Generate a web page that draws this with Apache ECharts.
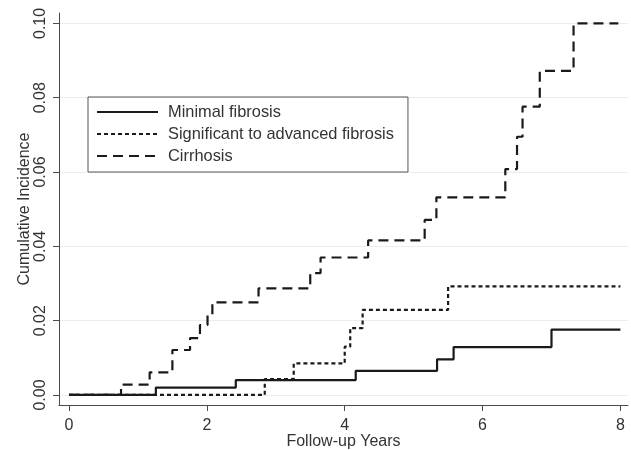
<!DOCTYPE html>
<html>
<head>
<meta charset="utf-8">
<script src="https://cdn.jsdelivr.net/npm/echarts@6/dist/echarts.min.js"></script>
<style>
html,body{margin:0;padding:0;background:#fff;}
#chart{width:631px;height:450px;}
</style>
</head>
<body>
<div id="chart"></div>
<script>
// ---- data ----
const seriesNames = ["Minimal fibrosis", "Significant to advanced fibrosis", "Cirrhosis"];

const minimalTimes  = [0, 1.26, 2.42, 4.16, 5.34, 5.58, 7.00, 8.00];
const minimalValues = [0, 0.0020, 0.0040, 0.0065, 0.0096, 0.0129, 0.0176, 0.0176];

const significantTimes  = [0, 2.84, 3.26, 4.00, 4.08, 4.26, 5.50, 8.00];
const significantValues = [0, 0.0043, 0.0085, 0.0130, 0.0180, 0.0229, 0.0292, 0.0292];

const cirrhosisTimes  = [0, 0.755, 1.17, 1.50, 1.756, 1.90, 2.01, 2.08, 2.75, 3.50, 3.65, 4.34, 5.16, 5.33, 6.33, 6.50, 6.58, 6.83, 7.32, 7.97];
const cirrhosisValues = [0, 0.0028, 0.0061, 0.0121, 0.0153, 0.0188, 0.0215, 0.0249, 0.0287, 0.0328, 0.0370, 0.0416, 0.0471, 0.0532, 0.0608, 0.0695, 0.0776, 0.0872, 0.1000, 0.1000];

const xTicks = [0, 2, 4, 6, 8];
const yTicks = [0, 0.02, 0.04, 0.06, 0.08, 0.10];

function pairs(t, v) { return t.map((x, i) => [x, v[i]]); }

const FONT = '"Liberation Sans", Arial, sans-serif';
const TXT = '#333';
const AXIS = '#4a4a4a';
const LINE = '#1a1a1a';

const chart = echarts.init(document.getElementById('chart'), null, {renderer: 'canvas'});
chart.setOption({
  animation: false,
  backgroundColor: '#fff',
  grid: {left: 59, right: 3, top: 13, bottom: 45, containLabel: false, outerBoundsMode: 'none'},
  legend: {
    show: true,
    orient: 'vertical',
    left: 88, top: 97,
    padding: [7, 14, 8, 8],
    borderColor: '#555', borderWidth: 1,
    itemWidth: 61, itemHeight: 14, itemGap: 6,
    itemStyle: {opacity: 0},
    textStyle: {fontFamily: FONT, fontSize: 16.4, color: TXT, padding: [0, 0, 0, 5]},
    data: seriesNames
  },
  xAxis: {
    type: 'value',
    min: -0.145, max: 8.11,
    name: 'Follow-up Years',
    nameLocation: 'middle',
    nameGap: 29,
    nameMoveOverlap: false,
    nameTextStyle: {fontFamily: FONT, fontSize: 16, color: TXT},
    axisLine: {show: true, onZero: false, lineStyle: {color: AXIS, width: 1}},
    axisTick: {show: true, length: 6, lineStyle: {color: AXIS}, customValues: xTicks},
    axisLabel: {fontFamily: FONT, fontSize: 16, color: TXT, margin: 13, customValues: xTicks},
    splitLine: {show: false}
  },
  yAxis: {
    type: 'value',
    min: -0.0027, max: 0.1028,
    name: 'Cumulative Incidence',
    nameLocation: 'middle',
    nameGap: 26,
    nameMoveOverlap: false,
    nameRotate: 90,
    nameTextStyle: {fontFamily: FONT, fontSize: 16, color: TXT},
    axisLine: {show: true, onZero: false, lineStyle: {color: AXIS, width: 1}},
    axisTick: {show: true, length: 6, lineStyle: {color: AXIS}, customValues: yTicks},
    axisLabel: {fontFamily: FONT, fontSize: 16, color: TXT, margin: 10, rotate: 90,
      customValues: yTicks, formatter: v => v.toFixed(2)},
    splitLine: {show: true, lineStyle: {color: '#ececec', width: 1}}
  },
  series: [
    {name: seriesNames[0], type: 'line', step: 'end', symbol: 'none',
     lineStyle: {color: LINE, width: 2.2, type: 'solid'},
     itemStyle: {color: LINE},
     data: pairs(minimalTimes, minimalValues), z: 3},
    {name: seriesNames[1], type: 'line', step: 'end', symbol: 'none',
     lineStyle: {color: LINE, width: 2.2, type: [4, 3]},
     itemStyle: {color: LINE},
     data: pairs(significantTimes, significantValues), z: 2},
    {name: seriesNames[2], type: 'line', step: 'end', symbol: 'none',
     lineStyle: {color: LINE, width: 2.2, type: [10, 6]},
     itemStyle: {color: LINE},
     data: pairs(cirrhosisTimes, cirrhosisValues), z: 1}
  ]
});
</script>
</body>
</html>
